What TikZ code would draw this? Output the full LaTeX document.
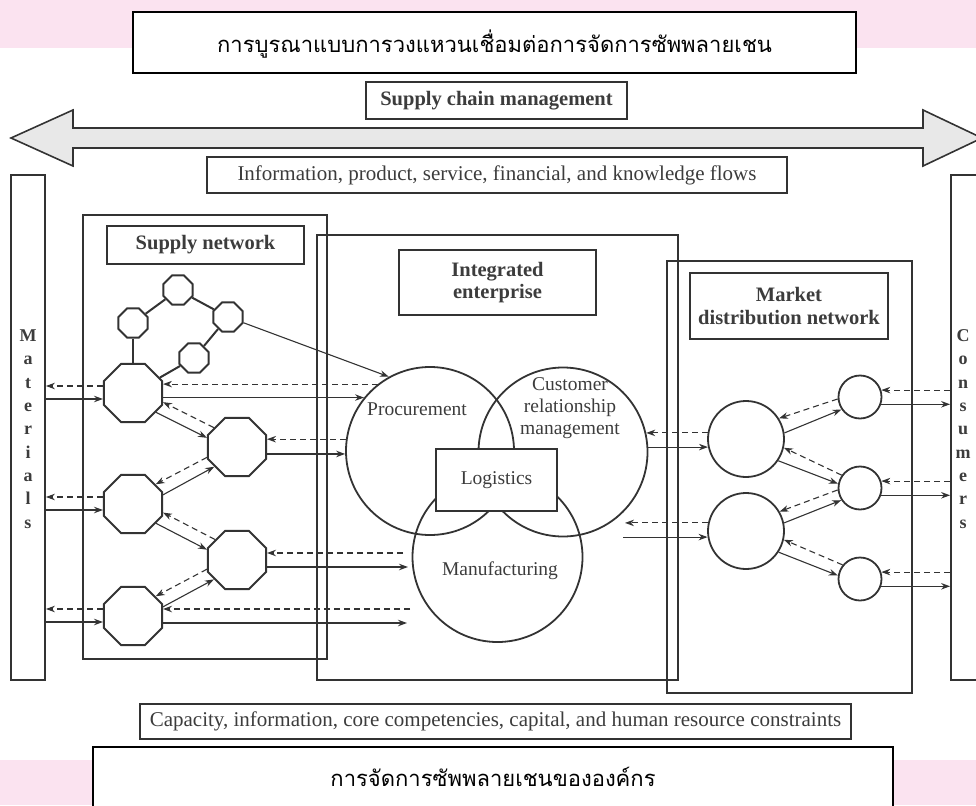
\documentclass[tikz,border=0pt]{standalone}
\usepackage{fontspec}
\setmainfont{Liberation Serif}
\newfontfamily\thaifont[Script=Thai]{Loma}
\usetikzlibrary{shapes.geometric,arrows.meta,calc}

\definecolor{ink}{HTML}{333333}
\definecolor{txt}{HTML}{3C3C3C}
\definecolor{bandpink}{HTML}{FBE3F0}
\definecolor{shaft}{HTML}{E8E8E8}

\begin{document}
\begin{tikzpicture}[x=1pt,y=-1pt,
  frame/.style={draw=ink,line width=1.8pt,inner sep=0pt},
  tagbox/.style={draw=ink,line width=1.8pt,fill=white,inner sep=0pt,text=txt,align=center,
    font=\fontsize{20.5}{22.5}\selectfont\bfseries},
  plainbox/.style={draw=ink,line width=1.5pt,fill=white,inner sep=0pt,text=txt,
    font=\fontsize{19.5}{22}\selectfont},
  bandbox/.style={plainbox,font=\fontsize{21}{24}\selectfont},
  thaibox/.style={draw=black,line width=1.6pt,fill=white,inner sep=0pt},
  lbl/.style={inner sep=0pt,text=txt,align=center,font=\fontsize{19.5}{22}\selectfont},
  barletters/.style={inner sep=0pt,text=txt,align=center,font=\fontsize{18}{23.3}\selectfont\bfseries},
  smalloct/.style={regular polygon,regular polygon sides=8,draw=ink,line width=2pt,
    inner sep=0pt,minimum size=31.4pt,fill=white},
  bigoct/.style={smalloct,minimum size=62.8pt},
  ring/.style={circle,draw=ink,line width=1.8pt,inner sep=0pt},
  link/.style={draw=ink,line width=2pt},
  arr/.style={draw=ink,line width=1.1pt,-{Stealth[length=9pt,width=6.5pt]}},
  darr/.style={arr,dash pattern=on 6pt off 4pt}
]
\useasboundingbox (0,0) rectangle (976,805);
\clip (0,0) rectangle (976,805);

% soft pink bands at top and bottom
\fill[bandpink] (0,0) rectangle (976,48);
\fill[bandpink] (0,760) rectangle (976,805);

% titles
\node[thaibox,minimum width=723pt,minimum height=61pt] (title) at (494.5,42.5) {};
\node[inner sep=0pt] (titletext) at (494.5,44) {\thaifont\fontsize{22}{26}\selectfont การบูรณาแบบการวงแหวนเชื่อมต่อการจัดการซัพพลายเชน};
\node[thaibox,minimum width=800pt,minimum height=83pt] (foot) at (493,788.5) {};
\node[inner sep=0pt] (foottext) at (493,777) {\thaifont\fontsize{22}{26}\selectfont การจัดการซัพพลายเชนขององค์กร};

% supply chain management double arrow
\node[tagbox,minimum width=261pt,minimum height=37pt] (scm) at (496.5,100.5) {Supply chain management};
\filldraw[fill=shaft,draw=ink,line width=1.6pt,line join=miter]
  (11,138) -- (73,110) -- (73,128) -- (923,128) -- (923,110) -- (982,138)
  -- (923,166) -- (923,148) -- (73,148) -- (73,166) -- cycle;
\node[bandbox,minimum width=580pt,minimum height=36pt] (flows) at (497,175)
  {Information, product, service, financial, and knowledge flows};
\node[bandbox,minimum width=711pt,minimum height=35pt] (limits) at (495.5,721.5)
  {Capacity, information, core competencies, capital, and human resource constraints};

% end bars
\node[frame,minimum width=34pt,minimum height=505pt] (mat) at (28,427.5) {};
\node[barletters] (matl) at (28,429) {M\\a\\t\\e\\r\\i\\a\\l\\s};
\node[frame,minimum width=40pt,minimum height=505pt] (con) at (971,427.5) {};
\node[barletters] (conl) at (963,429) {C\\o\\n\\s\\u\\m\\e\\r\\s};

% the three network frames
\draw[frame] (83,215) rectangle (327,659);
\draw[frame] (317,235) rectangle (678,680);
\draw[frame] (667,261) rectangle (912,693);

\node[tagbox,minimum width=197pt,minimum height=38pt] (snet) at (205.5,245) {Supply network};
\node[tagbox,minimum width=197pt,minimum height=65pt] (ient) at (497.5,282.5) {Integrated\\enterprise};
\node[tagbox,minimum width=198pt,minimum height=66pt] (mnet) at (789,306) {Market\\distribution network};

% supply network: octagon nodes
\node[smalloct] (o1) at (178,290) {};
\node[smalloct] (o2) at (133,323) {};
\node[smalloct] (o3) at (228,317) {};
\node[smalloct] (o4) at (194,358) {};
\node[bigoct] (L1) at (133,393) {};
\node[bigoct] (L2) at (237,447) {};
\node[bigoct] (L3) at (133,504) {};
\node[bigoct] (L4) at (237,560) {};
\node[bigoct] (L5) at (133,616) {};

\draw[link] (o2) -- (o1);
\draw[link] (o1) -- (o3);
\draw[link] (o3) -- (o4);
\draw[link] (o4) -- (L1);
\draw[link] (o2) -- (L1);

% integrated enterprise: overlapping functions
\node[ring,minimum size=168pt] (P) at (430,451) {};
\node[ring,minimum size=169pt] (C) at (563,452) {};
\node[ring,minimum size=170pt] (M) at (497.5,557) {};
\node[plainbox,minimum width=121pt,minimum height=62pt,line width=1.8pt] (logi) at (496.5,480) {Logistics};
\node[lbl] (procl) at (417,409) {Procurement};
\node[lbl] (crml) at (570,408) {Customer\\relationship\\management};
\node[lbl] (manl) at (500,571) {Manufacturing};

% market distribution network
\node[ring,minimum size=76pt] (D1) at (746,439) {};
\node[ring,minimum size=76pt] (D2) at (746,531) {};
\node[ring,minimum size=43pt] (K1) at (860,397) {};
\node[ring,minimum size=43pt] (K2) at (860,488) {};
\node[ring,minimum size=43pt] (K3) at (860,579) {};

% free ends of flows near manufacturing and market
\coordinate (m4d) at (403,553);
\coordinate (m4s) at (408,567);
\coordinate (m5d) at (410,609);
\coordinate (m5s) at (407,623);
\coordinate (d2d) at (625,523);
\coordinate (d2s) at (623,537);

% materials <-> first tier
\foreach \n in {L1,L3,L5}{
  \draw[darr] ([yshift=7pt]\n.west) -- ([yshift=7pt]\n.west -| mat.east);
  \draw[arr] ([yshift=-6pt]\n.west -| mat.east) -- ([yshift=-6pt]\n.west);
}

% between tiers
\draw[arr] (L1.-40) -- (L2.163);
\draw[darr] (L2.140) -- (L1.-17);
\draw[arr] (L3.17) -- (L2.221);
\draw[darr] (L2.199) -- (L3.41);
\draw[arr] (L3.-40) -- (L4.161);
\draw[darr] (L4.137) -- (L3.-16);
\draw[arr] (L5.17) -- (L4.220);
\draw[darr] (L4.197) -- (L5.41);

% supply network -> integrated enterprise
\draw[arr] (o3) -- (P.119);
\draw[darr] (P.128.2) -- (P.128.2 -| L1.east);
\draw[arr] (P.141.8 -| L1.east) -- (P.141.8);
\draw[darr] (P.172.5) -- (P.172.5 -| L2.east);
\draw[arr] (P.182 -| L2.east) -- (P.182);
\draw[darr] (m4d) -- (m4d -| L4.east);
\draw[arr] (m4s -| L4.east) -- (m4s);
\draw[darr] (m5d) -- (m5d -| L5.east);
\draw[arr] (m5s -| L5.east) -- (m5s);

% integrated enterprise -> market
\draw[darr] (D1.171) -- (D1.171 -| C.13.6);
\draw[arr] (D1.192 -| C.4) -- (D1.192);
\draw[darr] (D2.168) -- (D2.168 -| d2d);
\draw[arr] (D2.189 -| d2s) -- (D2.189);

\draw[arr] (D1.9) -- (K1.214);
\draw[darr] (K1.185) -- (D1.32);
\draw[arr] (D1.-34) -- (K2.169);
\draw[darr] (K2.145) -- (D1.-13);
\draw[arr] (D2.12) -- (K2.213);
\draw[darr] (K2.185) -- (D2.30);
\draw[arr] (D2.-33) -- (K3.171);
\draw[darr] (K3.141) -- (D2.-13);

% market <-> consumers
\foreach \n in {K1,K2,K3}{
  \draw[darr] (\n.18 -| con.west) -- (\n.18);
  \draw[arr] (\n.-19) -- (\n.-19 -| con.west);
}
\end{tikzpicture}
\end{document}
